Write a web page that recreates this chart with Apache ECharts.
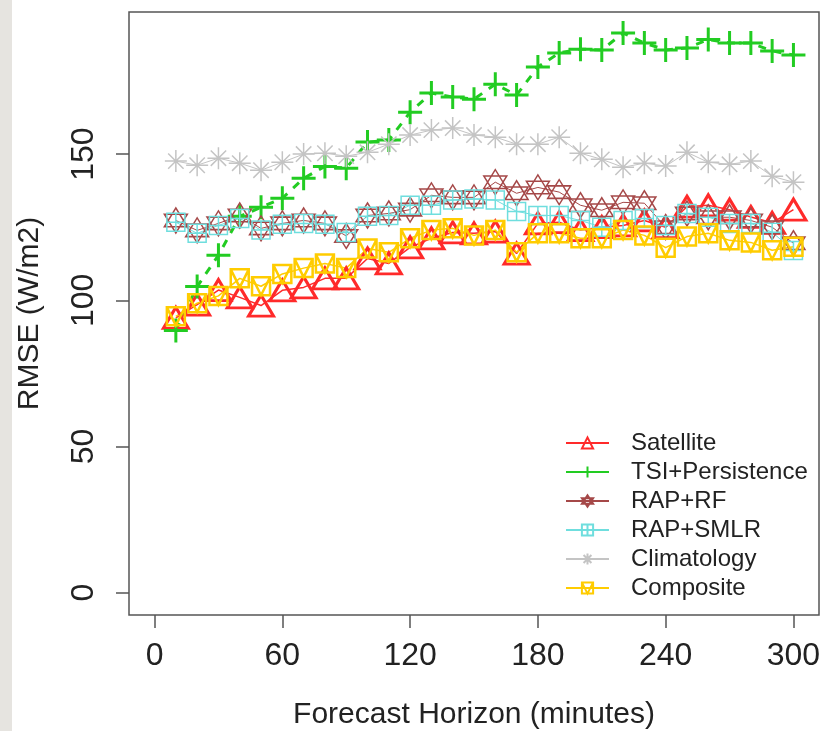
<!DOCTYPE html>
<html>
<head>
<meta charset="utf-8">
<script src="https://cdn.jsdelivr.net/npm/echarts@6/dist/echarts.min.js"></script>
<style>
html,body{margin:0;padding:0;background:#fff;}
#chart{width:827px;height:731px;}
</style>
</head>
<body>
<div id="chart"></div>
<script>
// ---- data ----
var horizons = [10,20,30,40,50,60,70,80,90,100,110,120,130,140,150,160,170,180,190,200,210,220,230,240,250,260,270,280,290,300];
var xTicks = [0,60,120,180,240,300];
var yTicks = [0,50,100,150];
var satellite = [94,98.5,103.5,101,98.2,103.4,104.4,107.5,107.5,114.3,112.6,118.1,121.2,123.2,122.9,123.5,116,126.3,126.7,124,125,125.6,127.3,125,132,132.5,131,128.5,126.5,131];
var tsiPersistence = [89.7,104.7,115.4,128.7,131.8,134.9,141.7,145.8,145.2,154.1,154.8,164.3,170.9,169.5,168.8,173.9,170.2,179.8,184.6,185.9,185.6,191.4,188,185.6,186.3,189.2,188,188,185.3,183.9];
var rapRF = [127.3,123.9,126.3,129,124.6,126.3,127.3,126.3,122,129,129.7,131,135.9,135.2,135.2,140.4,136.6,138.6,137,132.5,130.8,133.5,133.2,125,129.7,128.4,128.4,127.3,125,119.5];
var rapSMLR = [126.7,122.9,125.6,128,124,126,126.3,126,123.2,128.7,129,132.5,132.5,134.3,134.6,134.3,130.4,129,129,127.3,125,127.3,128,125.6,129.7,128.4,126.3,126.3,123.3,117];
var climatology = [147.6,146.2,148.6,146.9,144.5,147.2,150,150.3,149.3,150.6,153.4,156.5,158.2,158.9,156.5,155.8,153.4,153.4,155.8,150.3,148.2,145.5,146.9,145.9,150.6,147.2,146.5,147.6,142.4,140.4];
var composite = [94.5,99,101.5,107.5,104.8,109,111,112.6,111,117.7,116.4,121.2,124,124.6,122.2,124,116.4,122.9,122.9,121.2,121.2,124,122.2,118,121.8,122.9,120.5,119.8,117.1,118.3];
var seriesNames = ['Satellite','TSI+Persistence','RAP+RF','RAP+SMLR','Climatology','Composite'];

function pairs(vals){ return horizons.map(function(h,i){ return [h, vals[i]]; }); }

var FONT = '"Liberation Sans", Arial, Helvetica, sans-serif';
var SYM = {
  tri: 'path://M0,-1L0.866,0.5L-0.866,0.5Z',
  plus: 'path://M0,-1L0,1M-1,0L1,0',
  david: 'path://M0,-1L0.866,0.5L-0.866,0.5ZM0,1L0.866,-0.5L-0.866,-0.5Z',
  sqplus: 'path://M-1,-1L1,-1L1,1L-1,1ZM0,-1L0,1M-1,0L1,0',
  aster: 'path://M0,-1L0,1M-1,0L1,0M-0.7,-0.7L0.7,0.7M-0.7,0.7L0.7,-0.7',
  sqv: 'path://M-1,-1L1,-1L1,1L-1,1ZM-1,-1L0,1L1,-1'
};

function mk(name, vals, color, sym, size, bw, lw, ltype){
  return {
    name: name, type: 'line', data: pairs(vals),
    symbol: sym, symbolSize: size, showAllSymbol: true,
    itemStyle: {color: 'rgba(255,255,255,0)', borderColor: color, borderWidth: bw},
    lineStyle: {color: color, width: lw, type: ltype || 'solid'},
    emphasis: {disabled: true},
    animation: false
  };
}

var legendData = seriesNames.map(function(n){
  if (n === 'TSI+Persistence') return {name: n, lineStyle: {type: 'solid', width: 2}};
  return {name: n};
});

var chart = echarts.init(document.getElementById('chart'), null, {renderer: 'canvas'});
chart.setOption({
  backgroundColor: '#ffffff',
  animation: false,
  graphic: [{type: 'rect', left: 0, top: 0, shape: {width: 12, height: 731}, style: {fill: '#e6e4e0'}, z: -10}],
  grid: {left: 129, right: 8, top: 12, bottom: 116, show: true, borderColor: '#555', borderWidth: 1.5, backgroundColor: 'transparent', containLabel: false, outerBoundsMode: 'none'},
  legend: {
    orient: 'vertical', left: 560, top: 426,
    itemWidth: 43, itemHeight: 14, itemGap: 5,
    textStyle: {fontSize: 24, color: '#222', fontFamily: FONT, padding: [0,0,0,17]},
    data: legendData
  },
  xAxis: {
    type: 'value', min: -12, max: 312,
    axisLine: {show: false, onZero: false},
    axisTick: {show: true, inside: false, length: 13, customValues: xTicks, lineStyle: {color: '#555', width: 1.5}},
    axisLabel: {customValues: xTicks, fontSize: 32, color: '#222', fontFamily: FONT, margin: 25},
    splitLine: {show: false},
    name: 'Forecast Horizon (minutes)', nameLocation: 'middle', nameGap: 85,
    nameTextStyle: {fontSize: 30, color: '#222', fontFamily: FONT}
  },
  yAxis: {
    type: 'value', min: -7.64, max: 198.6,
    axisLine: {show: false, onZero: false},
    axisTick: {show: true, inside: false, length: 13, customValues: yTicks, lineStyle: {color: '#555', width: 1.5}},
    axisLabel: {customValues: yTicks, rotate: 90, fontSize: 32, color: '#222', fontFamily: FONT, margin: 29},
    splitLine: {show: false},
    name: 'RMSE (W/m2)', nameLocation: 'middle', nameGap: 84,
    nameTextStyle: {fontSize: 30, color: '#222', fontFamily: FONT}
  },
  series: [
    mk('Satellite', satellite, '#ff2a2a', SYM.tri, [25, 21], 3, 1.5),
    mk('TSI+Persistence', tsiPersistence, '#22cc22', SYM.plus, [24, 24], 3, 3, [8, 8]),
    mk('RAP+RF', rapRF, '#a54848', SYM.david, [23, 25], 1.5, 1),
    mk('RAP+SMLR', rapSMLR, '#6fdede', SYM.sqplus, [18, 18], 1.5, 1),
    mk('Climatology', climatology, '#c4c4c4', SYM.aster, [22, 22], 1.5, 1),
    mk('Composite', composite, '#ffcc00', SYM.sqv, [18, 18], 2.5, 1.5)
  ]
});
</script>
</body>
</html>
